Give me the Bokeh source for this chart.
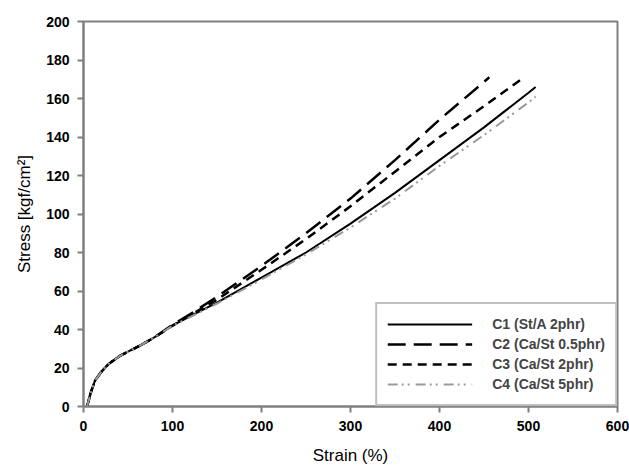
from bokeh.plotting import figure
from bokeh.models import Range1d, Legend, LegendItem, FixedTicker
from bokeh.embed import file_html
from bokeh.resources import INLINE

# Data
c1_strain = [4, 8, 13, 20, 28, 40, 50, 65, 80, 100, 120, 150, 200, 250, 300, 350, 400, 450, 500, 508]
c1_stress = [0, 7, 13.5, 18, 22, 26, 28.5, 32, 36, 42, 47, 54, 67, 80, 95, 111, 128, 145, 163, 166]

c2_strain = [4, 8, 13, 20, 28, 40, 50, 65, 80, 100, 120, 150, 200, 250, 300, 350, 400, 456]
c2_stress = [0, 7, 13.5, 18, 22, 26, 28.5, 32, 36, 42.5, 48, 57, 73, 90, 108, 128, 149, 171]

c3_strain = [4, 8, 13, 20, 28, 40, 50, 65, 80, 100, 120, 150, 200, 250, 300, 350, 400, 450, 492]
c3_stress = [0, 7, 13.5, 18, 22, 26, 28.5, 32, 36, 42, 47.5, 55.5, 71, 87, 104, 122, 140, 156, 170]

c4_strain = [4, 8, 13, 20, 28, 40, 50, 65, 80, 100, 120, 150, 200, 250, 300, 350, 400, 450, 500, 508]
c4_stress = [0, 7, 13.5, 18, 22, 26, 28.5, 32, 36, 42, 46.5, 53.5, 66, 79, 93, 108, 125, 141, 158, 161]

labels = ["C1 (St/A 2phr)", "C2 (Ca/St 0.5phr)", "C3 (Ca/St 2phr)", "C4 (Ca/St 5phr)"]
x_ticks = [0, 100, 200, 300, 400, 500, 600]
y_ticks = [0, 20, 40, 60, 80, 100, 120, 140, 160, 180, 200]

FONT = "Liberation Sans"

p = figure(width=629, height=468, output_backend="svg", toolbar_location=None,
           x_range=Range1d(0, 600), y_range=Range1d(0, 200),
           min_border_left=83, min_border_right=12, min_border_top=21, min_border_bottom=62)
p.grid.visible = False
p.background_fill_color = "white"
p.border_fill_color = "white"
p.outline_line_color = "#808080"
p.outline_line_width = 2

for ax in (p.xaxis[0], p.yaxis[0]):
    ax.axis_line_color = "#808080"
    ax.axis_line_width = 2
    ax.major_tick_line_color = "#808080"
    ax.major_tick_line_width = 2
    ax.major_tick_in = 0
    ax.major_tick_out = 6
    ax.minor_tick_line_color = None
    ax.major_label_text_font = FONT
    ax.major_label_text_font_style = "bold"
    ax.major_label_text_font_size = "14px"
    ax.major_label_text_color = "black"
    ax.axis_label_text_font = FONT
    ax.axis_label_text_font_style = "normal"
    ax.axis_label_text_font_size = "17px"
    ax.axis_label_text_color = "black"

p.xaxis.ticker = FixedTicker(ticks=x_ticks)
p.yaxis.ticker = FixedTicker(ticks=y_ticks)
p.xaxis.axis_label = "Strain (%)"
p.yaxis.axis_label = "Stress [kgf/cm²]"
p.xaxis.major_label_standoff = 8
p.yaxis.major_label_standoff = 8
p.xaxis.axis_label_standoff = 12
p.yaxis.axis_label_standoff = 9

r1 = p.line(c1_strain, c1_stress, line_color="black", line_width=2)
r2 = p.line(c2_strain, c2_stress, line_color="black", line_width=2.5, line_dash="18 8")
r3 = p.line(c3_strain, c3_stress, line_color="black", line_width=2.5, line_dash="9 6")
r4 = p.line(c4_strain, c4_stress, line_color="#999999", line_width=2, line_dash="10 4 2 4 2 6")

legend = Legend(items=[LegendItem(label=labels[0], renderers=[r1]),
                       LegendItem(label=labels[1], renderers=[r2]),
                       LegendItem(label=labels[2], renderers=[r3]),
                       LegendItem(label=labels[3], renderers=[r4])],
                location="bottom_right", margin=0, padding=10, spacing=0,
                glyph_width=85, glyph_height=20, label_height=20, label_standoff=20,
                label_text_font=FONT, label_text_font_style="bold", label_text_font_size="14px",
                border_line_color="#808080", border_line_width=2,
                background_fill_alpha=1.0)
p.add_layout(legend)

open("out.html", "w").write(file_html(p, INLINE))
